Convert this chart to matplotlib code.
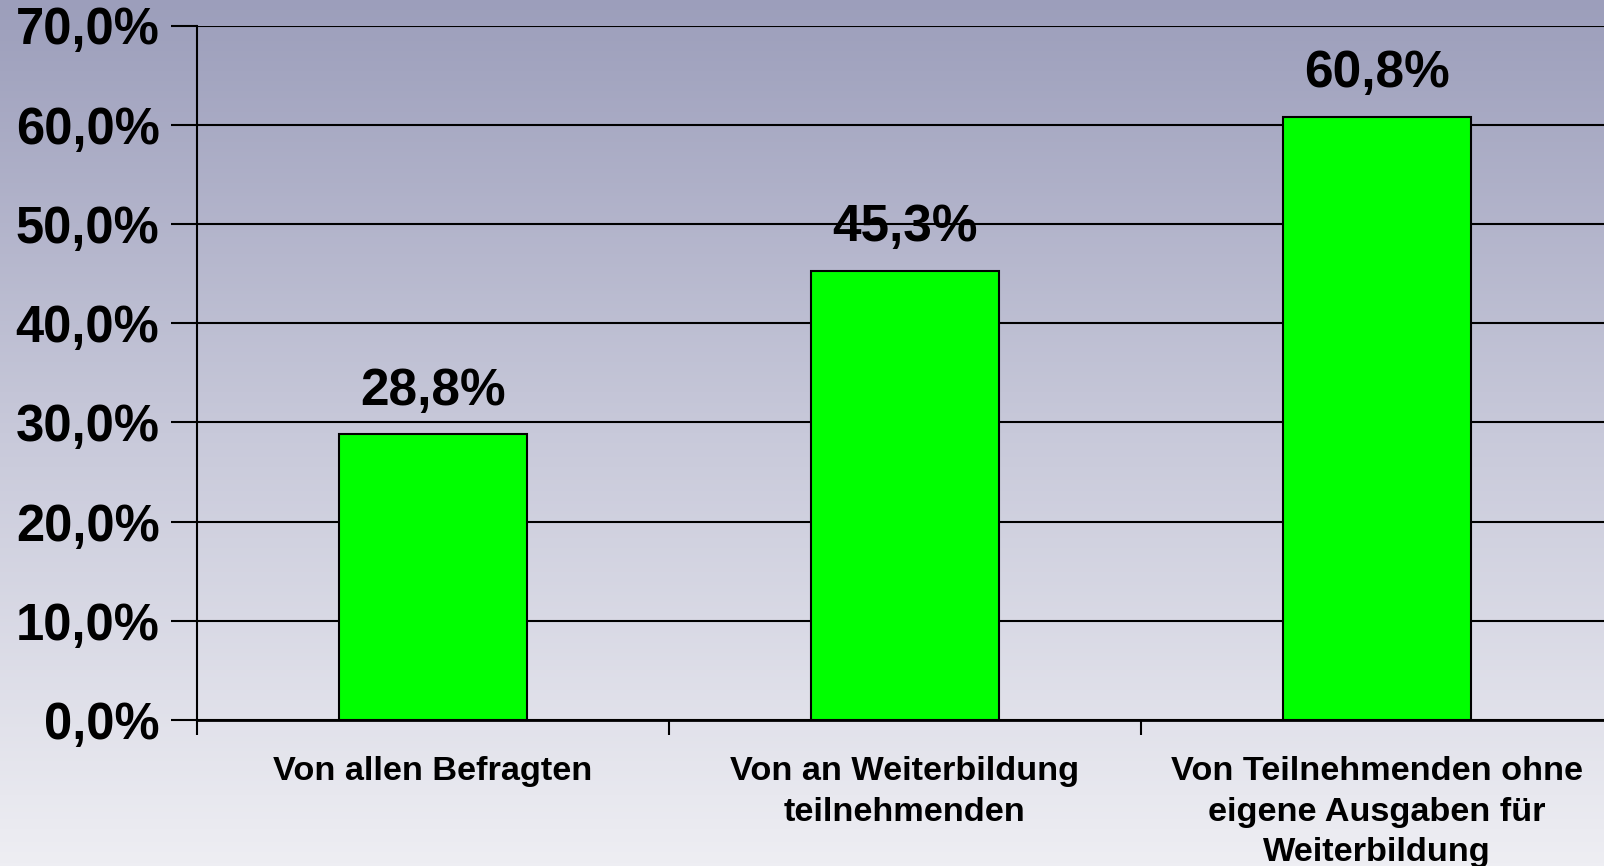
import numpy as np
import matplotlib.pyplot as plt
from matplotlib.colors import LinearSegmentedColormap
from matplotlib.ticker import FuncFormatter

categories = ["Von allen Befragten",
              "Von an Weiterbildung\nteilnehmenden",
              "Von Teilnehmenden ohne\neigene Ausgaben für\nWeiterbildung"]
values = [28.8, 45.3, 60.8]
y_ticks = [0, 10, 20, 30, 40, 50, 60, 70]

plt.rcParams['font.family'] = ['Liberation Sans', 'DejaVu Sans']
plt.rcParams['font.weight'] = 'bold'

W, H = 1604, 866
fig = plt.figure(figsize=(W / 100, H / 100), dpi=100)

# background gradient (slate blue at top, nearly white at bottom)
bg = fig.add_axes([0, 0, 1, 1], zorder=0)
bg.axis('off')
cmap = LinearSegmentedColormap.from_list('bg', ['#9c9ebb', '#c8c9da', '#eeeef3'])
grad = np.linspace(0, 1, 256).reshape(-1, 1)
bg.imshow(grad, aspect='auto', cmap=cmap, extent=[0, 1, 0, 1])

left = 197 / W
top_px, base_px = 25.5, 720
ax = fig.add_axes([left, 1 - base_px / H, 1416 / W, (base_px - top_px) / H], zorder=1)
ax.patch.set_alpha(0)

x = np.arange(len(categories))
ax.bar(x, values, width=0.4, color='#00ff00', edgecolor='black', linewidth=1.5, zorder=3)

for xi, v in zip(x, values):
    ax.annotate(f"{v:.1f}%".replace('.', ','), (xi, v), xytext=(0, 31), textcoords='offset points',
                ha='center', va='center', fontsize=37, fontweight='bold', zorder=4)

ax.set_xlim(-0.5, 2.5)
ax.set_ylim(0, 70)
ax.set_yticks(y_ticks)
ax.yaxis.set_major_formatter(FuncFormatter(lambda v, p: f"{v:.1f}%".replace('.', ',')))
ax.grid(axis='y', color='black', linewidth=1.5, zorder=1)
ax.set_axisbelow(True)

ax.set_xticks(x)
ax.set_xticklabels(categories, fontsize=24.7, fontweight='bold', linespacing=1.4)
ax.set_xticks([-0.5, 0.5, 1.5, 2.5], minor=True)
ax.tick_params(axis='x', which='major', length=0, pad=26)
ax.tick_params(axis='x', which='minor', length=11, width=1.5, direction='out')
ax.tick_params(axis='y', length=19, width=1.5, pad=8, labelsize=36.5)

for s in ['top', 'right']:
    ax.spines[s].set_visible(False)
ax.spines['left'].set_linewidth(1.5)
ax.spines['bottom'].set_linewidth(2)

fig.savefig('out.png', dpi=100)
